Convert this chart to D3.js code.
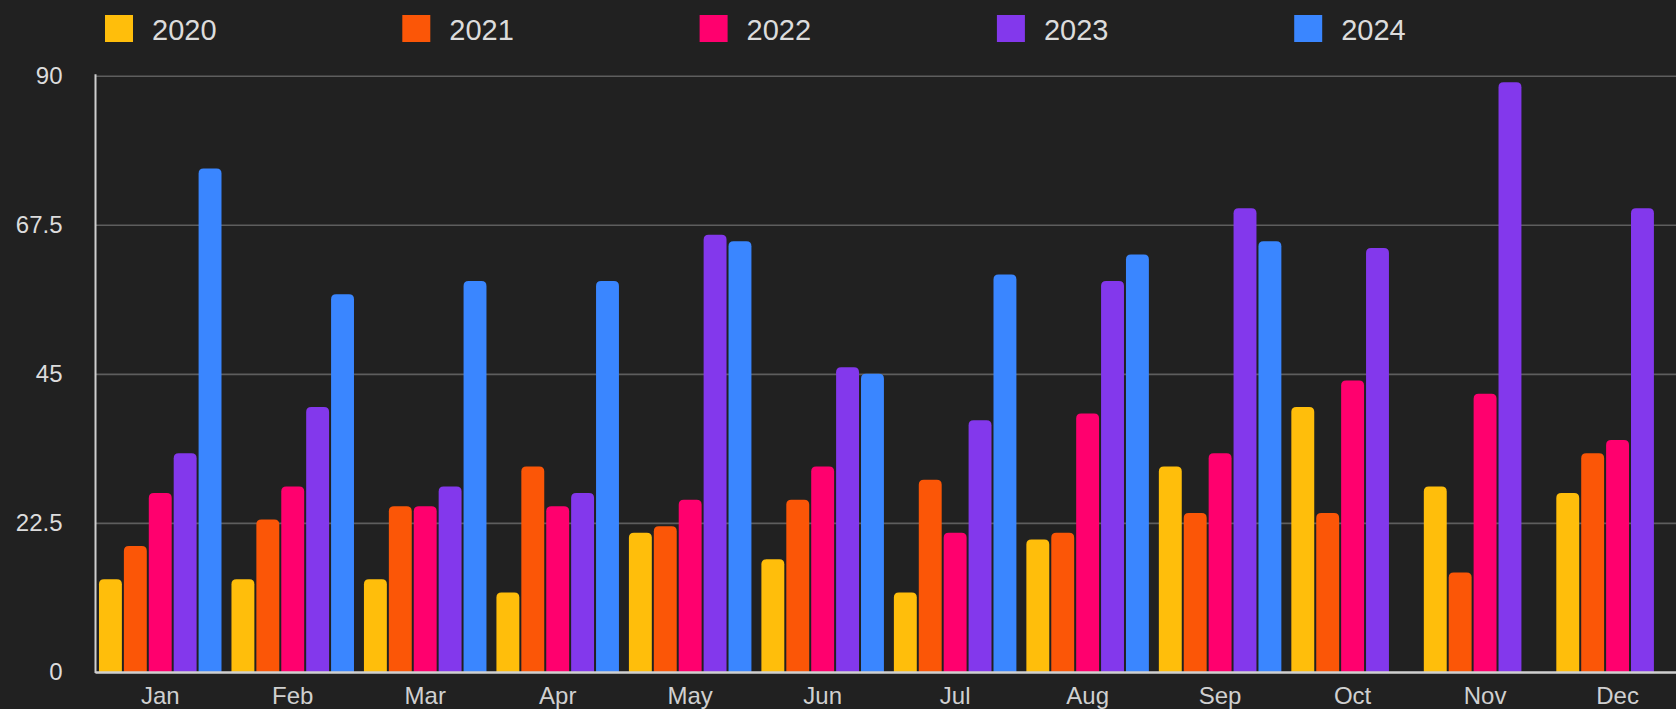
<!DOCTYPE html>
<html>
<head>
<meta charset="utf-8">
<script src="https://cdn.jsdelivr.net/npm/d3@7"></script>
<style>
  html, body { margin: 0; padding: 0; background: #212121; overflow: hidden; }
  svg { display: block; }
  text { font-family: "Liberation Sans", Arial, Helvetica, sans-serif; }
</style>
</head>
<body>
<svg id="chart" width="1676" height="709"></svg>
<script>
const months = ["Jan","Feb","Mar","Apr","May","Jun","Jul","Aug","Sep","Oct","Nov","Dec"];
const series = ["2020","2021","2022","2023","2024"];
const colors = ["#ffbe0b","#fb5607","#ff006e","#8338ec","#3a86ff"];
const v2020 = [14,14,14,12,21,17,12,20,31,40,28,27];
const v2021 = [19,23,25,31,22,26,29,21,24,24,15,33];
const v2022 = [27,28,25,25,26,31,21,39,33,44,42,35];
const v2023 = [33,40,28,27,66,46,38,59,70,64,89,70];
const v2024 = [76,57,59,59,65,45,60,63,65,null,null,null];
const yTicks = [0,22.5,45,67.5,90];

const values = [v2020, v2021, v2022, v2023, v2024];
const data = [];
months.forEach((m, mi) => {
  series.forEach((s, si) => {
    const v = values[si][mi];
    if (v !== null && v !== undefined) data.push({month: m, series: s, value: v, color: colors[si]});
  });
});

const svg = d3.select("#chart");
const axisX = 95.5, bandStart = 94, bandEnd = 1683.8, plotTop = 75.7, plotBottom = 672;

const x0 = d3.scaleBand().domain(months).range([bandStart, bandEnd]).paddingInner(0).paddingOuter(0);
const x1 = d3.scaleBand().domain(series).range([0, x0.bandwidth()]).paddingInner(0.08).paddingOuter(0.2);
const y = d3.scaleLinear().domain([0, 90]).range([plotBottom, plotTop]);

// grid lines
const yAxis = d3.axisLeft(y).tickValues(yTicks).tickSize(-(1676 - axisX)).tickFormat(d => d).tickPadding(33);
const gy = svg.append("g").attr("transform", `translate(${axisX},0)`).call(yAxis);
gy.select(".domain").remove();
gy.selectAll(".tick line").attr("stroke", "#5e5e5e").attr("stroke-width", 1.6);
gy.selectAll(".tick text").attr("fill", "#dcdcdc").attr("font-size", 24)
  .attr("font-family", "'Liberation Sans', Arial, sans-serif");

// bars with rounded top corners
function barPath(x, yTop, w, h, r) {
  r = Math.min(r, w / 2, h);
  return `M${x},${yTop + h}V${yTop + r}Q${x},${yTop} ${x + r},${yTop}H${x + w - r}Q${x + w},${yTop} ${x + w},${yTop + r}V${yTop + h}Z`;
}
svg.append("g").selectAll("path").data(data).enter().append("path")
  .attr("d", d => {
    const bx = x0(d.month) + x1(d.series);
    const yt = y(d.value);
    return barPath(bx, yt, x1.bandwidth(), y(0) - yt, 5);
  })
  .attr("fill", d => d.color);

// left axis line
svg.append("line").attr("x1", axisX).attr("x2", axisX).attr("y1", plotTop - 1.5).attr("y2", plotBottom + 1)
  .attr("stroke", "#cfcfcf").attr("stroke-width", 2);

// bottom axis
const xAxis = d3.axisBottom(x0).tickSize(0).tickPadding(15);
const gx = svg.append("g").attr("transform", `translate(0,${plotBottom})`).call(xAxis);
gx.select(".domain").attr("stroke", "#cfcfcf").attr("stroke-width", 2.5).attr("d", `M${axisX},0.5H1676`);
gx.selectAll(".tick text").attr("fill", "#d0d0d0").attr("font-size", 24)
  .attr("font-family", "'Liberation Sans', Arial, sans-serif");

// legend
const lg = svg.append("g").selectAll("g").data(series).enter().append("g")
  .attr("transform", (d, i) => `translate(${105 + i * 297.3},0)`);
lg.append("rect").attr("x", 0).attr("y", 15).attr("width", 28).attr("height", 27)
  .attr("fill", (d, i) => colors[i]);
lg.append("text").attr("x", 47).attr("y", 39.5).attr("font-size", 29).attr("fill", "#dcdcdc").text(d => d);
</script>
</body>
</html>
